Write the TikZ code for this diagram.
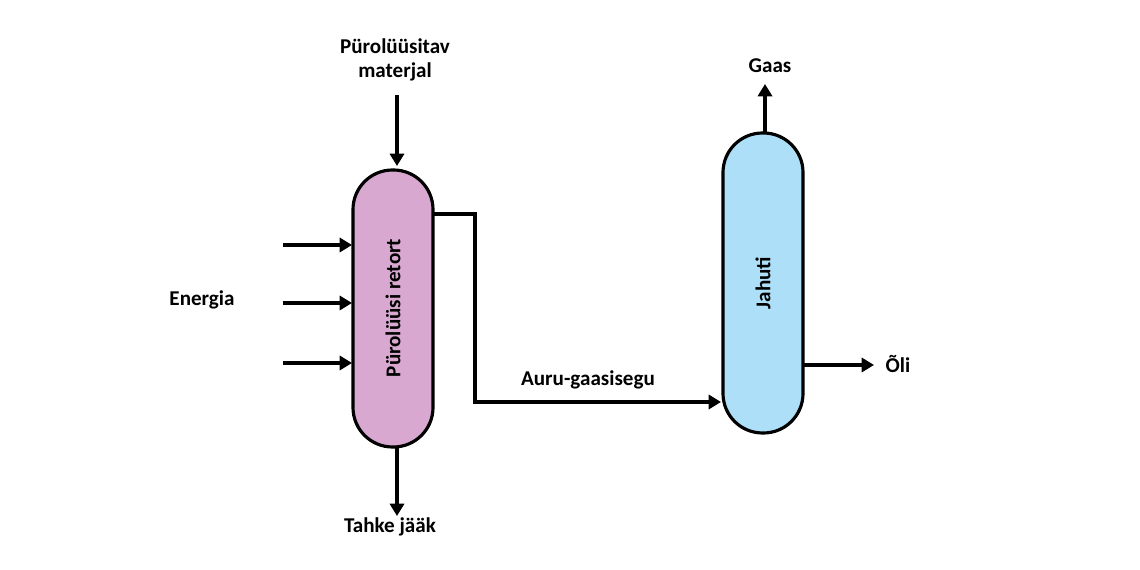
\documentclass[tikz,border=0pt]{standalone}
\usepackage{fontspec}
\setmainfont{Carlito}
\usetikzlibrary{arrows.meta}
\begin{document}
\begin{tikzpicture}[x=0.02cm,y=-0.02cm,
  vessel/.style={draw=black,line width=1.8pt,rounded corners=0.79cm},
  flow/.style={draw=black,line width=1.8pt,-{Triangle[length=7pt,width=8pt]}},
  lbl/.style={font=\bfseries\fontsize{12}{14}\selectfont,align=center}]
\useasboundingbox (0,0) rectangle (1140,570);
\path[vessel,fill={rgb,255:red,216;green,168;blue,208}] (353,170) rectangle (433,447);
\path[vessel,fill={rgb,255:red,173;green,224;blue,248}] (723,133) rectangle (803,433);
\node (r) at (393,308) [lbl,rotate=90] {Pürolüüsi retort};
\node (j) at (763,283) [lbl,rotate=90] {Jahuti};
\node (m) at (395,60) [lbl] {Pürolüüsitav\\materjal};
\node (e) at (202,300) [lbl] {Energia};
\node (t) at (390,527) [lbl] {Tahke jääk};
\node (a) at (588,380) [lbl] {Auru-gaasisegu};
\node (g) at (770,66) [lbl] {Gaas};
\node (o) at (898,364) [lbl] {Õli};
\coordinate (m1) at (397,95); \coordinate (m2) at (397,166);
\coordinate (t1) at (397,447); \coordinate (t2) at (397,516);
\coordinate (g1) at (765,133); \coordinate (g2) at (765,84);
\coordinate (o1) at (803,365); \coordinate (o2) at (874,365);
\coordinate (a1) at (433,214); \coordinate (a2) at (721,402);
\draw[flow] (m1) -- (m2);
\draw[flow] (t1) -- (t2);
\draw[flow] (g1) -- (g2);
\draw[flow] (o1) -- (o2);
\draw[flow] (a1) -- (475,214) -- (475,402) -- (a2);
\foreach \yy in {245,303,363} {
  \coordinate (es) at (283,\yy); \coordinate (ee) at (352,\yy);
  \draw[flow] (es) -- (ee);}
\end{tikzpicture}
\end{document}
